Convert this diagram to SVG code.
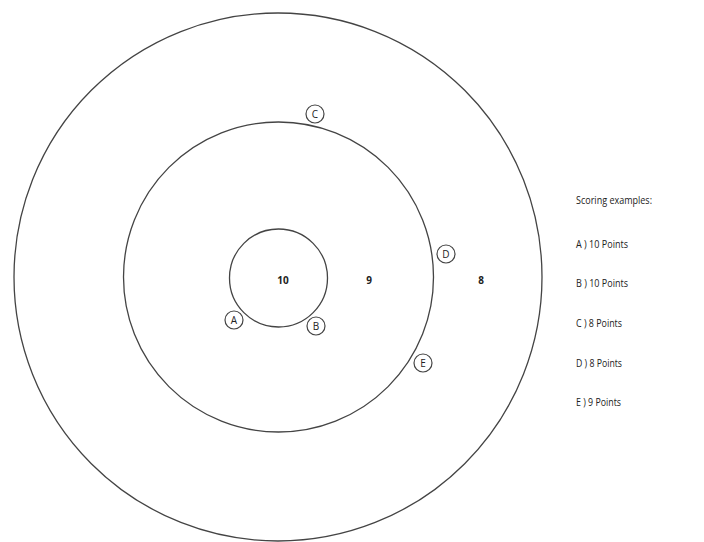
<svg xmlns="http://www.w3.org/2000/svg" width="704" height="542" viewBox="0 0 704 542">
<style>
.ring{fill:none;stroke:#444;stroke-width:1.3}
.mark{fill:#fff;stroke:#444;stroke-width:1.2}
.t{font-family:"Open Sans","Liberation Sans",Arial,sans-serif;fill:#222}
.num{font-size:10px;font-weight:bold;text-anchor:middle}
.lbl{font-size:10px;text-anchor:middle}
.leg{font-size:10px}
</style>
<rect width="704" height="542" fill="#fff"/>
<g id="target">
<circle class="ring" cx="278" cy="277" r="264"/>
<circle class="ring" cx="278.5" cy="277" r="155"/>
<circle class="ring" cx="278.5" cy="278" r="49"/>
</g>
<g id="scores">
<text class="t num" x="283" y="284">10</text>
<text class="t num" x="369" y="284">9</text>
<text class="t num" x="481" y="284">8</text>
</g>
<g id="A"><circle class="mark" cx="234" cy="320" r="9"/><text class="t lbl" x="234" y="323.5">A</text></g>
<g id="B"><circle class="mark" cx="316" cy="326" r="9"/><text class="t lbl" x="316" y="329.5">B</text></g>
<g id="C"><circle class="mark" cx="315" cy="114" r="9"/><text class="t lbl" x="315" y="117.5">C</text></g>
<g id="D"><circle class="mark" cx="446" cy="254" r="9"/><text class="t lbl" x="446" y="257.5">D</text></g>
<g id="E"><circle class="mark" cx="423" cy="363" r="9"/><text class="t lbl" x="423" y="366.5">E</text></g>
<g id="legend">
<text class="t leg" x="576" y="204" textLength="76" lengthAdjust="spacingAndGlyphs">Scoring examples:</text>
<text class="t leg" x="576" y="248" textLength="52" lengthAdjust="spacingAndGlyphs">A ) 10 Points</text>
<text class="t leg" x="576" y="287" textLength="52" lengthAdjust="spacingAndGlyphs">B ) 10 Points</text>
<text class="t leg" x="576" y="327" textLength="46" lengthAdjust="spacingAndGlyphs">C ) 8 Points</text>
<text class="t leg" x="576" y="367" textLength="46" lengthAdjust="spacingAndGlyphs">D ) 8 Points</text>
<text class="t leg" x="576" y="406" textLength="45" lengthAdjust="spacingAndGlyphs">E ) 9 Points</text>
</g>
</svg>
